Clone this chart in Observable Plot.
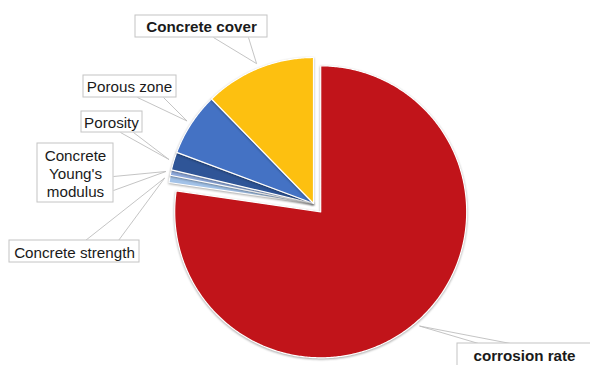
<!DOCTYPE html>
<html>
<head>
<meta charset="utf-8">
<script src="https://cdn.jsdelivr.net/npm/d3@7"></script>
<script src="https://cdn.jsdelivr.net/npm/@observablehq/plot@0.6"></script>
<style>
  html, body { margin: 0; padding: 0; background: #fff; }
  #chart svg { display: block; overflow: hidden; }
</style>
</head>
<body>
<div id="chart"></div>
<script>
// Share of each parameter (percent), listed clockwise from 12 o'clock
const categories = ["corrosion rate", "Concrete strength", "Concrete Young's modulus", "Porosity", "Porous zone", "Concrete cover"];
const shares = [77.3, 0.8, 0.6, 2.0, 7.0, 12.3];
const labelTexts = ["corrosion rate", "Concrete strength", "Concrete\nYoung's\nmodulus", "Porosity", "Porous zone", "Concrete cover"];
const boldLabels = ["corrosion rate", "Concrete cover"];
const colors = ["#C1141A", "#A2C2E8", "#8FAADC", "#2F5597", "#4472C4", "#FDC010"];

// Pie layout (pixels)
const W = 590, H = 365;
const CX = 313, CY = 203, R = 146;
const explode = {"corrosion rate": 11};

// Callout boxes: [x1, y1, x2, y2], text centre [x, y], two leader start points on the box
const callouts = {
  "corrosion rate":           {box: [457, 343, 600, 380], text: [524, 356], from: [[478, 343], [510, 343]]},
  "Concrete strength":        {box: [9, 240, 139, 262],  text: [74, 252],  from: [[85, 240], [118, 240]]},
  "Concrete Young's modulus": {box: [37, 143, 113, 202], text: [75, 173],  from: [[113, 176], [113, 190]]},
  "Porosity":                 {box: [81, 111, 142, 132], text: [111, 122], from: [[120, 132], [133, 132]]},
  "Porous zone":              {box: [83, 75, 176, 97],   text: [129, 86],  from: [[137, 97], [163, 97]]},
  "Concrete cover":           {box: [135, 15, 267, 37],  text: [201, 27],  from: [[213, 37], [248, 37]]}
};

const rows = categories.map((name, i) => ({name, share: shares[i], label: labelTexts[i]}));
const arcs = d3.pie().sort(null).value(d => d.share)(rows);

// Slice outlines as closed polygons
const slicePoints = [];
const anchors = [];
for (const a of arcs) {
  const name = a.data.name;
  const mid = (a.startAngle + a.endAngle) / 2;
  const off = explode[name] || 0;
  const cx = CX + off * Math.sin(mid), cy = CY - off * Math.cos(mid);
  slicePoints.push({name, x: cx, y: cy});
  const n = Math.max(2, Math.ceil((a.endAngle - a.startAngle) / 0.01));
  for (let k = 0; k <= n; k++) {
    const t = a.startAngle + (a.endAngle - a.startAngle) * k / n;
    slicePoints.push({name, x: cx + R * Math.sin(t), y: cy - R * Math.cos(t)});
  }
  anchors.push({name, x: cx + (R + 5) * Math.sin(mid), y: cy - (R + 5) * Math.cos(mid)});
}

const leaders = [];
for (const p of anchors) {
  for (const f of callouts[p.name].from) leaders.push({x1: f[0], y1: f[1], x2: p.x, y2: p.y});
}
const boxes = rows.map(d => {
  const c = callouts[d.name];
  return {name: d.name, x1: c.box[0], y1: c.box[1], x2: c.box[2], y2: c.box[3], tx: c.text[0], ty: c.text[1], label: d.label};
});

const font = "Liberation Sans, Arial, Helvetica, sans-serif";

const chart = Plot.plot({
  width: W,
  height: H,
  margin: 0,
  x: {domain: [0, W], range: [0, W], axis: null},
  y: {domain: [0, H], range: [0, H], axis: null},
  color: {domain: categories, range: colors},
  style: {background: "#fff", fontFamily: font},
  marks: [
    Plot.line(slicePoints, {x: "x", y: "y", z: "name", fill: "name", stroke: "#fff", strokeWidth: 1.2, curve: "linear-closed"}),
    Plot.link(leaders, {x1: "x1", y1: "y1", x2: "x2", y2: "y2", stroke: "#bdbdbd", strokeWidth: 0.9}),
    Plot.rect(boxes, {x1: "x1", y1: "y1", x2: "x2", y2: "y2", fill: "#fff", stroke: "#c4c4c4", strokeWidth: 1}),
    Plot.text(boxes.filter(d => !boldLabels.includes(d.name)), {x: "tx", y: "ty", text: "label", fontSize: 15.2, fill: "#1a1a1a", lineHeight: 1.18}),
    Plot.text(boxes.filter(d => boldLabels.includes(d.name)), {x: "tx", y: "ty", text: "label", fontSize: 15.2, fontWeight: "bold", fill: "#1a1a1a"})
  ]
});

// soft shadow under the slices
d3.select(chart).selectAll("g[aria-label=line] path").style("filter", "drop-shadow(0px 1px 1.2px rgba(0,0,0,0.35))");

document.getElementById("chart").appendChild(chart);
</script>
</body>
</html>
